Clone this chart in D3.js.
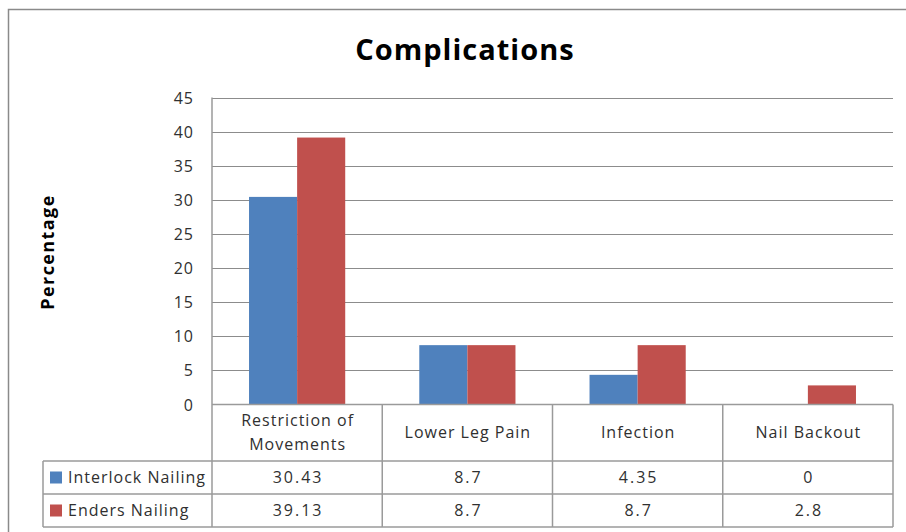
<!DOCTYPE html>
<html>
<head>
<meta charset="utf-8">
<script src="https://cdn.jsdelivr.net/npm/d3@7"></script>
<style>
  html, body { margin: 0; padding: 0; background: #fff; }
  svg { display: block; }
  text { font-family: "Open Sans", "Noto Sans", sans-serif; }
</style>
</head>
<body>
<svg id="chart" width="906" height="532"></svg>
<script>
const categories = ["Restriction of Movements", "Lower Leg Pain", "Infection", "Nail Backout"];
const categoryLines = [["Restriction of", "Movements"], ["Lower Leg Pain"], ["Infection"], ["Nail Backout"]];
const seriesNames = ["Interlock Nailing", "Enders Nailing"];
const interlockValues = [30.43, 8.7, 4.35, 0];
const endersValues = [39.13, 8.7, 8.7, 2.8];
const tableLabels = [["30.43", "8.7", "4.35", "0"], ["39.13", "8.7", "8.7", "2.8"]];
const yTicks = [0, 5, 10, 15, 20, 25, 30, 35, 40, 45];
const colors = ["#4F81BD", "#C0504D"];

const series = [interlockValues, endersValues];
const svg = d3.select("#chart");

const plot = { left: 212, right: 893, top: 97.5, bottom: 404.5 };
const rowTop = [404.5, 461, 494, 527];
const legendLeft = 43;
const gridColor = "#8c8c8c";
const textColor = "#303030";

// outer chart frame
svg.append("rect").attr("x", 8.5).attr("y", 9.5).attr("width", 920).attr("height", 540)
  .attr("fill", "none").attr("stroke", "#8a8a8a").attr("stroke-width", 1.5);

// title
svg.append("text").attr("x", 465).attr("y", 60).attr("text-anchor", "middle")
  .attr("font-size", 29).attr("font-weight", "bold").attr("fill", "#000")
  .attr("letter-spacing", 1)
  .text("Complications");

const x = d3.scaleBand().domain(categories).range([plot.left, plot.right]).paddingInner(0).paddingOuter(0);
const inner = d3.scaleBand().domain(seriesNames).range([0, x.bandwidth()]).paddingOuter(0.77).paddingInner(0);
const y = d3.scaleLinear().domain([0, 45]).range([plot.bottom, plot.top]);

// horizontal gridlines
svg.append("g").selectAll("line").data(yTicks.filter(d => d > 0)).join("line")
  .attr("x1", plot.left).attr("x2", plot.right)
  .attr("y1", d => Math.round(y(d)) + 0.5).attr("y2", d => Math.round(y(d)) + 0.5)
  .attr("stroke", gridColor).attr("stroke-width", 1);

// y axis labels
const yAxis = d3.axisLeft(y).tickValues(yTicks).tickSize(0).tickPadding(0);
const yg = svg.append("g").attr("transform", `translate(${194},0)`).call(yAxis);
yg.select(".domain").remove();
yg.selectAll("text").attr("font-size", 16).attr("fill", textColor).attr("letter-spacing", 1)
  .attr("font-family", "'Open Sans', 'Noto Sans', sans-serif").attr("dy", "0.35em");

// axis title
svg.append("text").attr("transform", `translate(54,252) rotate(-90)`)
  .attr("text-anchor", "middle").attr("font-size", 18).attr("font-weight", "bold").attr("fill", "#000")
  .attr("letter-spacing", 1.4)
  .text("Percentage");

// bars
seriesNames.forEach((name, si) => {
  svg.append("g").selectAll("rect").data(series[si]).join("rect")
    .attr("x", (d, i) => x(categories[i]) + inner(name))
    .attr("y", d => y(d))
    .attr("width", inner.bandwidth())
    .attr("height", d => y(0) - y(d))
    .attr("fill", colors[si]);
});

// data table grid
const tbl = svg.append("g").attr("stroke", "#9a9a9a").attr("stroke-width", 1.5).attr("fill", "none");
tbl.append("line").attr("x1", plot.left).attr("x2", plot.right).attr("y1", rowTop[0]).attr("y2", rowTop[0]);
[1, 2, 3].forEach(r => {
  tbl.append("line").attr("x1", legendLeft).attr("x2", plot.right).attr("y1", rowTop[r]).attr("y2", rowTop[r]);
});
tbl.append("line").attr("x1", legendLeft).attr("x2", legendLeft).attr("y1", rowTop[1]).attr("y2", rowTop[3]);
// plot axis, category dividers and right edge
const dividers = categories.map(c => x(c)).concat([plot.right]);
tbl.selectAll("line.div").data(dividers).join("line").attr("class", "div")
  .attr("x1", d => d).attr("x2", d => d)
  .attr("y1", (d, i) => i === 0 ? plot.top : rowTop[0]).attr("y2", rowTop[3]);

// category headers
categories.forEach((c, i) => {
  const cx = x(c) + x.bandwidth() / 2 + 0.5;
  const lines = categoryLines[i];
  const mid = (rowTop[0] + rowTop[1]) / 2;
  const lh = 24;
  lines.forEach((ln, j) => {
    svg.append("text").attr("x", cx).attr("y", mid + (j - (lines.length - 1) / 2) * lh)
      .attr("dy", "0.35em").attr("text-anchor", "middle").attr("font-size", 16).attr("fill", textColor)
      .attr("letter-spacing", 1)
      .text(ln);
  });
});

// series rows
seriesNames.forEach((name, si) => {
  const mid = (rowTop[si + 1] + rowTop[si + 2]) / 2;
  svg.append("rect").attr("x", 50).attr("y", mid - 6).attr("width", 12).attr("height", 12).attr("fill", colors[si]);
  svg.append("text").attr("x", 68).attr("y", mid).attr("dy", "0.35em").attr("font-size", 16)
    .attr("fill", textColor).attr("letter-spacing", 1).text(name);
  tableLabels[si].forEach((lab, i) => {
    svg.append("text").attr("x", x(categories[i]) + x.bandwidth() / 2 + 1).attr("y", mid).attr("dy", "0.35em")
      .attr("text-anchor", "middle").attr("font-size", 16).attr("fill", textColor)
      .attr("letter-spacing", 2).text(lab);
  });
});
</script>
</body>
</html>
